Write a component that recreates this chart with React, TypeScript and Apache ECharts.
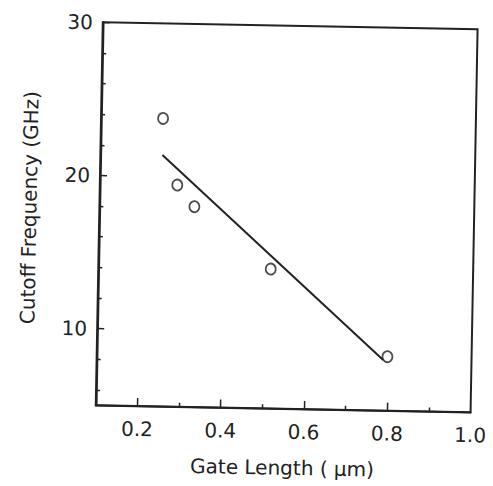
import React, { useEffect, useRef } from "react";
import * as echarts from "echarts";

const xMajorTicks = [0.2, 0.4, 0.6, 0.8];
const xMinorTicks = [0.3, 0.5, 0.7, 0.9];
const xTickLabels = [0.2, 0.4, 0.6, 0.8, 1.0];
const yMajorTicks = [10, 20, 30];
const yMinorTicks = [6, 8, 12, 14, 16, 18, 22, 24, 26, 28];
const yTickLabels = [10, 20, 30];

const gateLength = [0.249, 0.286, 0.328, 0.514, 0.798];
const cutoffFreq = [23.8, 19.47, 18.08, 14.1, 8.52];

const fitX = [0.249, 0.788];
const fitY = [21.41, 8.3];

const FONT = "DejaVu Sans";
const INK = "#222";

export default function App() {
  const ref = useRef<HTMLDivElement>(null);
  useEffect(() => {
    if (!ref.current) return;
    const chart = echarts.init(ref.current, null, { renderer: "svg" });
    const baseX = {
      type: "value",
      min: 0.1,
      max: 1.0,
      position: "bottom",
      splitLine: { show: false },
    };
    const baseY = {
      type: "value",
      min: 5,
      max: 30,
      position: "left",
      splitLine: { show: false },
    };
    chart.setOption({
      animation: false,
      backgroundColor: "#fff",
      grid: {
        left: 99.25,
        right: 493 - 474.25,
        top: 25.75,
        bottom: 486 - 408.75,
        show: true,
        borderColor: INK,
        borderWidth: 2,
        backgroundColor: "transparent",
      },
      xAxis: [
        {
          ...baseX,
          name: "Gate Length ( μm)",
          nameLocation: "middle",
          nameGap: 49,
          nameTextStyle: { fontFamily: FONT, fontSize: 20, color: INK },
          axisLine: { show: true, onZero: false, lineStyle: { color: INK, width: 2 } },
          axisTick: { show: true, inside: true, length: 8, customValues: xMajorTicks, lineStyle: { color: INK, width: 1.5 } },
          axisLabel: {
            show: true,
            customValues: xTickLabels,
            margin: 13,
            fontFamily: FONT,
            fontSize: 20,
            color: INK,
            formatter: (v: number) => v.toFixed(1),
          },
        },
        {
          ...baseX,
          axisLine: { show: false },
          axisTick: { show: true, inside: true, length: 4, customValues: xMinorTicks, lineStyle: { color: INK, width: 1.5 } },
          axisLabel: { show: false },
        },
      ],
      yAxis: [
        {
          ...baseY,
          name: "Cutoff Frequency (GHz)",
          nameLocation: "middle",
          nameRotate: 90,
          nameGap: 60,
          nameTextStyle: { fontFamily: FONT, fontSize: 20, color: INK, padding: [0, 0, 0, 10] },
          axisLine: { show: true, onZero: false, lineStyle: { color: INK, width: 2 } },
          axisTick: { show: true, inside: true, length: 7, customValues: yMajorTicks, lineStyle: { color: INK, width: 1.5 } },
          axisLabel: {
            show: true,
            customValues: yTickLabels,
            margin: 10,
            fontFamily: FONT,
            fontSize: 20,
            color: INK,
          },
        },
        {
          ...baseY,
          axisLine: { show: false },
          axisTick: { show: true, inside: true, length: 4, customValues: yMinorTicks, lineStyle: { color: INK, width: 1.5 } },
          axisLabel: { show: false },
        },
      ],
      series: [
        {
          type: "line",
          xAxisIndex: 0,
          yAxisIndex: 0,
          data: fitX.map((x, i) => [x, fitY[i]]),
          showSymbol: false,
          symbol: "none",
          lineStyle: { color: INK, width: 2 },
        },
        {
          type: "scatter",
          xAxisIndex: 0,
          yAxisIndex: 0,
          data: gateLength.map((x, i) => [x, cutoffFreq[i]]),
          symbol: "circle",
          symbolSize: [10, 11],
          itemStyle: { color: "#fff", borderColor: INK, borderWidth: 1.8 },
        },
      ],
    });
    return () => chart.dispose();
  }, []);
  return (
    <div
      ref={ref}
      style={{
        width: 493,
        height: 486,
        position: "absolute",
        left: 0,
        top: 0,
        transform: "rotate(1.05deg)",
        transformOrigin: "286.75px 217.25px",
      }}
    />
  );
}
